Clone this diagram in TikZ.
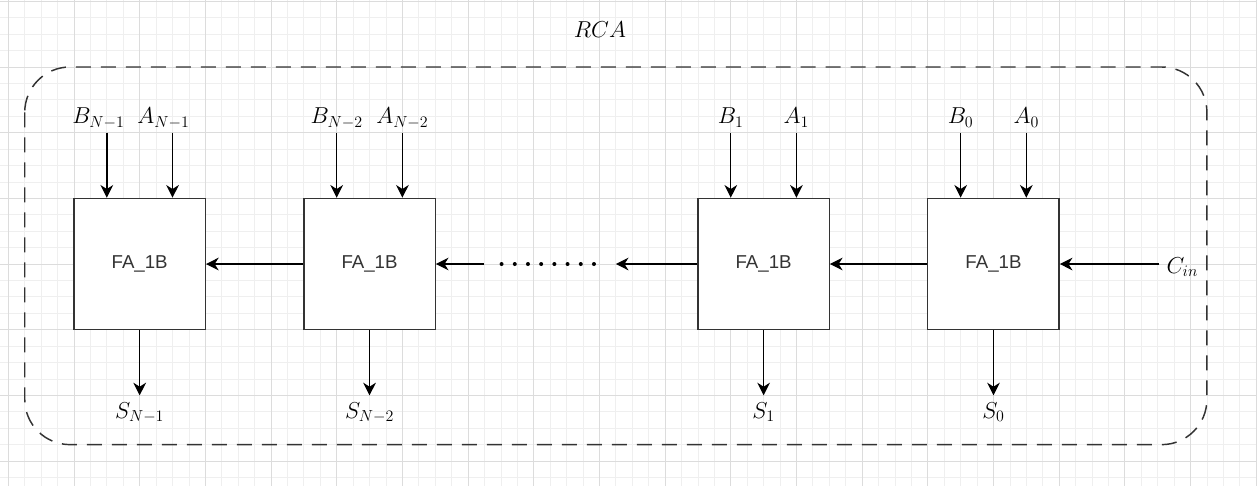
\documentclass[tikz,border=0pt]{standalone}
\usepackage{fontspec}
\newfontfamily\fasans{Liberation Sans}
\usetikzlibrary{arrows.meta}
\definecolor{gridminor}{HTML}{EFEFEF}
\definecolor{gridmajor}{HTML}{DCDCDC}
\definecolor{boxline}{HTML}{333333}
\begin{document}
\begin{tikzpicture}[x=12.315pt,y=-12.315pt,
  fa/.style={draw=boxline,line width=1pt,fill=white,minimum width=98.5pt,minimum height=98.5pt,inner sep=0pt,font=\fasans\fontsize{14}{16}\selectfont,text=boxline},
  lbl/.style={anchor=base,inner sep=0pt,font=\fontsize{17}{20}\selectfont},
  arr/.style={line width=1pt,-{Stealth[length=9.5pt,width=9.5pt,inset=3pt]}},
  gminor/.style={draw=gridminor,line width=0.6pt},
  gmajor/.style={draw=gridmajor,line width=0.7pt},
  frame/.style={draw=boxline,line width=1.1pt,dash pattern=on 11.25pt off 7.5pt,rounded corners=34pt}
  ]
\useasboundingbox (-4.507,-4.080) rectangle (72.05,25.52);
\fill[white] (-4.507,-4.080) rectangle (72.05,25.52);
% grid
\foreach \i in {-4,...,72} \draw[gminor] (\i,-4.08) -- (\i,25.52);
\foreach \j in {-4,...,25} \draw[gminor] (-4.507,\j) -- (72.05,\j);
\foreach \i in {-4,0,...,72} \draw[gmajor] (\i,-4.08) -- (\i,25.52);
\foreach \j in {-4,0,...,24} \draw[gmajor] (-4.507,\j) -- (72.05,\j);
% frame
\draw[frame] (-3,0) rectangle (69,23);
\node[lbl] (rca) at (32.03,-1.77) {$RCA$};
% boxes
\node[fa] (box1) at (4,12) {FA\_1B};
\node[fa] (box2) at (18,12) {FA\_1B};
\node[fa] (box3) at (42,12) {FA\_1B};
\node[fa] (box4) at (56,12) {FA\_1B};
% input labels
\node[lbl] (lb1) at (1.49,3.47) {$B_{N-1}$};
\node[lbl] (la1) at (5.45,3.47) {$A_{N-1}$};
\node[lbl] (lb2) at (16,3.47) {$B_{N-2}$};
\node[lbl] (la2) at (20,3.47) {$A_{N-2}$};
\node[lbl] (lb3) at (40,3.47) {$B_1$};
\node[lbl] (la3) at (44,3.47) {$A_1$};
\node[lbl] (lb4) at (54,3.47) {$B_0$};
\node[lbl] (la4) at (58,3.47) {$A_0$};
% input arrows
\foreach \b/\x in {box1/0,box2/14,box3/38,box4/52}{
  \coordinate (\b inB) at (\x+2,4);
  \coordinate (\b inA) at (\x+6,4);
  \draw[arr] (\b inB) -- (\b inB |- \b.north);
  \draw[arr] (\b inA) -- (\b inA |- \b.north);
}
% outputs
\foreach \b/\x in {box1/4,box2/18,box3/42,box4/56}{
  \coordinate (\b out) at (\x,20);
  \draw[arr] (\b.south) -- (\b out);
}
\node[lbl] (s1) at (4,21.4) {$S_{N-1}$};
\node[lbl] (s2) at (18,21.4) {$S_{N-2}$};
\node[lbl] (s3) at (42,21.4) {$S_1$};
\node[lbl] (s4) at (56,21.4) {$S_0$};
% carry chain
\draw[arr] (box2.west) -- (box1.east);
\coordinate (dotR) at (25,12);
\draw[arr] (dotR) -- (box2.east);
\foreach \k in {0,...,7} \fill (26.04+0.804*\k,12) circle (1.5pt);
\coordinate (dotL) at (33,12);
\draw[arr] (box3.west) -- (dotL);
\draw[arr] (box4.west) -- (box3.east);
\node[lbl] (cin) at (67.5,12.55) {$C_{in}$};
\coordinate (cinstart) at (66.1,12);
\draw[arr] (cinstart) -- (box4.east);
\end{tikzpicture}
\end{document}
